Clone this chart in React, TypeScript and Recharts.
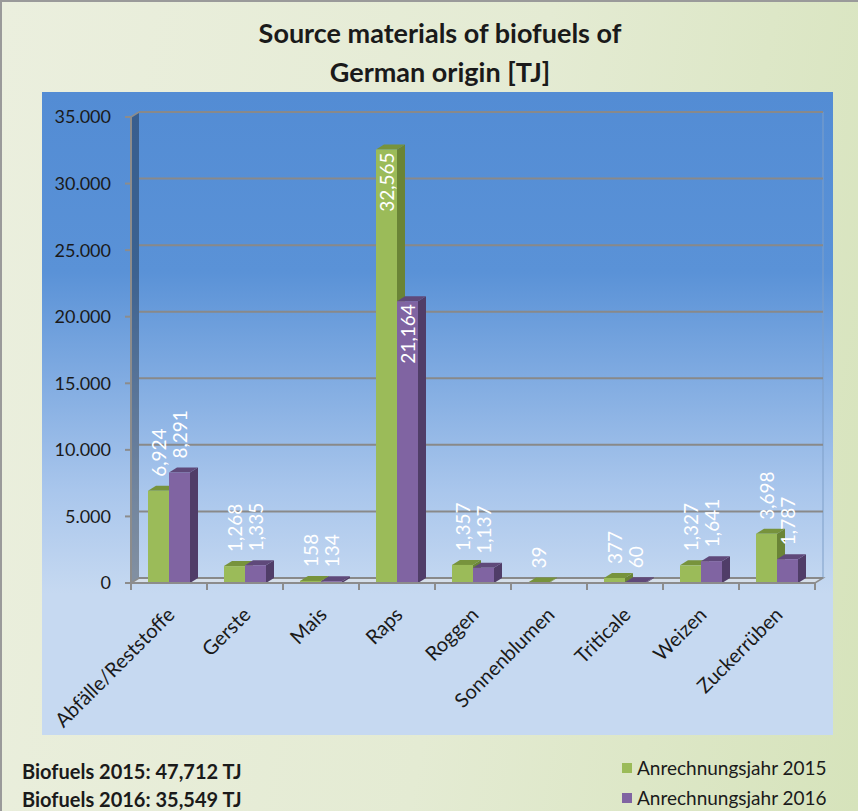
import { BarChart, Bar, XAxis, YAxis, CartesianGrid, LabelList } from "recharts";

const categories = [
  "Abfälle/Reststoffe",
  "Gerste",
  "Mais",
  "Raps",
  "Roggen",
  "Sonnenblumen",
  "Triticale",
  "Weizen",
  "Zuckerrüben",
];
const values2015 = [6924, 1268, 158, 32565, 1357, 39, 377, 1327, 3698];
const values2016: (number | null)[] = [8291, 1335, 134, 21164, 1137, null, 60, 1641, 1787];
const yTicks = [0, 5000, 10000, 15000, 20000, 25000, 30000, 35000];
const seriesNames = ["Anrechnungsjahr 2015", "Anrechnungsjahr 2016"];
const totals = ["Biofuels 2015: 47,712 TJ", "Biofuels 2016: 35,549 TJ"];

const data = categories.map((name, i) => ({
  name,
  y2015: values2015[i],
  y2016: values2016[i],
}));

const W = 858;
const H = 811;
const PLOT_LEFT = 131;
const PLOT_RIGHT = 815;
const PLOT_TOP = 117;
const PLOT_BOTTOM = 583;
const DX = 8;
const DY = 5;
const FONT = "Lato, 'Open Sans', sans-serif";
const CAT_W = (PLOT_RIGHT - PLOT_LEFT) / categories.length;

const fmtAxis = (v: number) => String(v).replace(/\B(?=(\d{3})+(?!\d))/g, ".");
const fmtLabel = (v: number) => String(v).replace(/\B(?=(\d{3})+(?!\d))/g, ",");

function Bar3D(props: any) {
  const { x, y, width, height, fill, topColor, sideColor } = props;
  if (x == null || y == null || !isFinite(height)) return null;
  const r = x + width;
  const b = y + height;
  return (
    <g>
      <path d={`M${r},${y} L${r + DX},${y - DY} L${r + DX},${b - DY} L${r},${b} Z`} fill={sideColor} />
      <path d={`M${x},${y} L${x + DX},${y - DY} L${r + DX},${y - DY} L${r},${y} Z`} fill={topColor} />
      <rect x={x} y={y} width={width} height={height} fill={fill} />
    </g>
  );
}

function ValueLabel(props: any) {
  const { x, y, width, value } = props;
  if (value == null) return null;
  const cx = x + width / 2;
  const inside = value > 15000;
  const ty = inside ? y + 3 : y - 14;
  return (
    <text
      x={cx}
      y={ty}
      transform={`rotate(-90 ${cx} ${ty})`}
      textAnchor={inside ? "end" : "start"}
      dominantBaseline="central"
      fill="#ffffff"
      fontSize={19}
      fontFamily={FONT}
    >
      {fmtLabel(value)}
    </text>
  );
}

function CategoryTick(props: any) {
  const { x, y, payload, index } = props;
  const left = x - CAT_W / 2;
  const tx = x + 7;
  const ty = y + 25;
  return (
    <g>
      <line x1={left} y1={PLOT_BOTTOM} x2={left} y2={PLOT_BOTTOM + 7} stroke="#8c8c8c" strokeWidth={2} />
      {index === categories.length - 1 && (
        <line x1={x + CAT_W / 2} y1={PLOT_BOTTOM} x2={x + CAT_W / 2} y2={PLOT_BOTTOM + 7} stroke="#8c8c8c" strokeWidth={2} />
      )}
      <text
        x={tx}
        y={ty}
        transform={`rotate(-45 ${tx} ${ty})`}
        textAnchor="end"
        fill="#1a1a1a"
        fontSize={20}
        fontFamily={FONT}
      >
        {payload.value}
      </text>
    </g>
  );
}

function GridLine(props: any) {
  const { x1, x2, y1 } = props;
  return (
    <line x1={x1 + DX} y1={y1 - DY} x2={x2 + DX} y2={y1 - DY} stroke="#898989" strokeWidth={2} />
  );
}

export default function App() {
  return (
    <div
      style={{
        position: "absolute",
        left: 0,
        top: 0,
        width: W,
        height: H,
        boxSizing: "border-box",
        borderLeft: "2px solid #9a9a9a",
        borderTop: "2px solid #9a9a9a",
        background: "linear-gradient(100deg, #ebefde 0%, #e4ebd3 55%, #d6e3bb 100%)",
        fontFamily: FONT,
        overflow: "hidden",
      }}
    >
      <div
        style={{
          position: "absolute",
          left: 0,
          top: 11,
          width: 876,
          textAlign: "center",
          fontWeight: 700,
          fontSize: 27,
          lineHeight: "39px",
          color: "#1a1a1a",
        }}
      >
        Source materials of biofuels of
        <br />
        German origin [TJ]
      </div>
      <div
        style={{
          position: "absolute",
          left: 40,
          top: 90,
          width: 791,
          height: 643,
          background: "linear-gradient(180deg, #538cd4 0%, #5a92d7 28%, #a9c6ec 62%, #c6d9f1 78%, #c6d9f1 100%)",
        }}
      />
      <svg style={{ position: "absolute", left: -2, top: -2 }} width={W} height={H}>
        {/* left wall */}
        <path
          d={`M${PLOT_LEFT},${PLOT_BOTTOM} L${PLOT_LEFT},${PLOT_TOP} L${PLOT_LEFT + DX},${PLOT_TOP - DY} L${PLOT_LEFT + DX},${PLOT_BOTTOM - DY} Z`}
          fill="#000000"
          fillOpacity={0.33}
        />
        {/* floor */}
        <path
          d={`M${PLOT_LEFT},${PLOT_BOTTOM} L${PLOT_RIGHT},${PLOT_BOTTOM} L${PLOT_RIGHT + DX},${PLOT_BOTTOM - DY} L${PLOT_LEFT + DX},${PLOT_BOTTOM - DY} Z`}
          fill="#d5dfea"
          stroke="#8c8c8c"
          strokeWidth={1.5}
        />
        <line x1={PLOT_RIGHT + DX} y1={PLOT_TOP - DY} x2={PLOT_RIGHT + DX} y2={PLOT_BOTTOM - DY} stroke="#7f9fc8" strokeWidth={1} />
        <line x1={PLOT_LEFT} y1={PLOT_TOP} x2={PLOT_LEFT + DX} y2={PLOT_TOP - DY} stroke="#8c8c8c" strokeWidth={1.5} />
      </svg>
      <div style={{ position: "absolute", left: -2, top: -2 }}>
        <BarChart
          width={W}
          height={H}
          data={data}
          margin={{ top: PLOT_TOP, right: W - PLOT_RIGHT, bottom: H - PLOT_BOTTOM - 150, left: 0 }}
          barCategoryGap={17}
          barGap={0}
        >
          <CartesianGrid vertical={false} horizontal={(p: any) => <GridLine {...p} />} />
          <XAxis
            dataKey="name"
            height={150}
            interval={0}
            tickLine={false}
            axisLine={{ stroke: "#8c8c8c", strokeWidth: 2 }}
            tick={(p: any) => <CategoryTick {...p} />}
          />
          <YAxis
            width={PLOT_LEFT}
            domain={[0, 35000]}
            ticks={yTicks}
            tickFormatter={fmtAxis}
            tickSize={6}
            tickMargin={14}
            axisLine={{ stroke: "#8c8c8c", strokeWidth: 2 }}
            tickLine={{ stroke: "#8c8c8c", strokeWidth: 2 }}
            tick={{ fill: "#1a1a1a", fontSize: 18, fontFamily: FONT }}
          />
          <Bar
            dataKey="y2015"
            name={seriesNames[0]}
            fill="#9bbb59"
            isAnimationActive={false}
            shape={(p: any) => <Bar3D {...p} topColor="#77933c" sideColor="#6a8436" />}
          >
            <LabelList dataKey="y2015" content={(p: any) => <ValueLabel {...p} />} />
          </Bar>
          <Bar
            dataKey="y2016"
            name={seriesNames[1]}
            fill="#8064a2"
            isAnimationActive={false}
            shape={(p: any) => <Bar3D {...p} topColor="#5f497a" sideColor="#503d68" />}
          >
            <LabelList dataKey="y2016" content={(p: any) => <ValueLabel {...p} />} />
          </Bar>
        </BarChart>
      </div>
      <div style={{ position: "absolute", left: 20, top: 755, fontWeight: 700, fontSize: 20, lineHeight: "28px", color: "#1a1a1a" }}>
        <div>{totals[0]}</div>
        <div>{totals[1]}</div>
      </div>
      <div style={{ position: "absolute", left: 620, top: 751, fontSize: 19, lineHeight: "30px", color: "#1a1a1a" }}>
        {seriesNames.map((s, i) => (
          <div key={s} style={{ display: "flex", alignItems: "center" }}>
            <span style={{ display: "inline-block", width: 10, height: 10, background: i === 0 ? "#9bbb59" : "#8064a2", marginRight: 5 }} />
            {s}
          </div>
        ))}
      </div>
    </div>
  );
}
